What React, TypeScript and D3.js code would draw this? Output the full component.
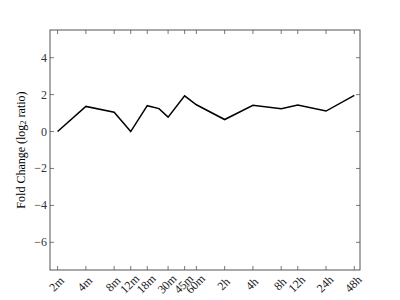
import React from "react";
import * as d3 from "d3";

const timeLabels = ["2m", "4m", "8m", "12m", "18m", "30m", "45m", "60m", "2h", "4h", "8h", "12h", "24h", "48h"];
const tickMinutes = [2, 4, 8, 12, 18, 30, 45, 60, 120, 240, 480, 720, 1440, 2880];
const pointMinutes = [2, 4, 8, 12, 18, 24, 30, 45, 60, 120, 240, 480, 720, 1440, 2880];
const foldChange = [0, 1.36, 1.05, 0, 1.4, 1.24, 0.78, 1.93, 1.45, 0.65, 1.42, 1.24, 1.44, 1.11, 1.96];
const yTicks = [-6, -4, -2, 0, 2, 4];

const W = 400, H = 300;
const L = 50, R = 360, T = 30, B = 270;

export default function App() {
  const x = d3.scaleLog().domain([1.66, 3310]).range([L, R]);
  const y = d3.scaleLinear().domain([-7.5, 5.5]).range([B, T]);
  const line = d3.line<number>().x((_, i) => x(pointMinutes[i])).y((d) => y(d));
  const font = "'Liberation Serif', 'DejaVu Serif', serif";
  const fmt = (v: number) => (v < 0 ? "\u2212" + Math.abs(v) : String(v));
  return (
    <svg width={W} height={H} style={{ position: "absolute", left: 0, top: 0, background: "#fff" }}>
      <path d={line(foldChange) || ""} fill="none" stroke="#000" strokeWidth={1.5} strokeLinejoin="miter" />
      <rect x={L} y={T} width={R - L} height={B - T} fill="none" stroke="#555" strokeWidth={1} />
      {tickMinutes.map((m, i) => (
        <g key={"xt" + i}>
          <line x1={x(m)} x2={x(m)} y1={B} y2={B - 4} stroke="#555" strokeWidth={0.8} />
          <line x1={x(m)} x2={x(m)} y1={T} y2={T + 4} stroke="#555" strokeWidth={0.8} />
          <text
            transform={`translate(${x(m) - 1},${284}) rotate(-45)`}
            textAnchor="middle"
            dominantBaseline="central"
            fontFamily={font}
            fontSize={12}
            fill="#222"
          >
            {timeLabels[i]}
          </text>
        </g>
      ))}
      {yTicks.map((v) => (
        <g key={"yt" + v}>
          <line x1={L} x2={L + 4} y1={y(v)} y2={y(v)} stroke="#555" strokeWidth={0.8} />
          <line x1={R} x2={R - 4} y1={y(v)} y2={y(v)} stroke="#555" strokeWidth={0.8} />
          <text x={L - 3} y={y(v)} textAnchor="end" dominantBaseline="central" fontFamily={font} fontSize={12} fill="#333">
            {fmt(v)}
          </text>
        </g>
      ))}
      <text
        transform={`translate(21,${(T + B) / 2}) rotate(-90)`}
        textAnchor="middle"
        dominantBaseline="central"
        fontFamily={font}
        fontSize={12}
        fill="#000"
      >
        Fold Change (log
        <tspan fontSize={8.5} dy={2}>2</tspan>
        <tspan dy={-2}> ratio)</tspan>
      </text>
    </svg>
  );
}
